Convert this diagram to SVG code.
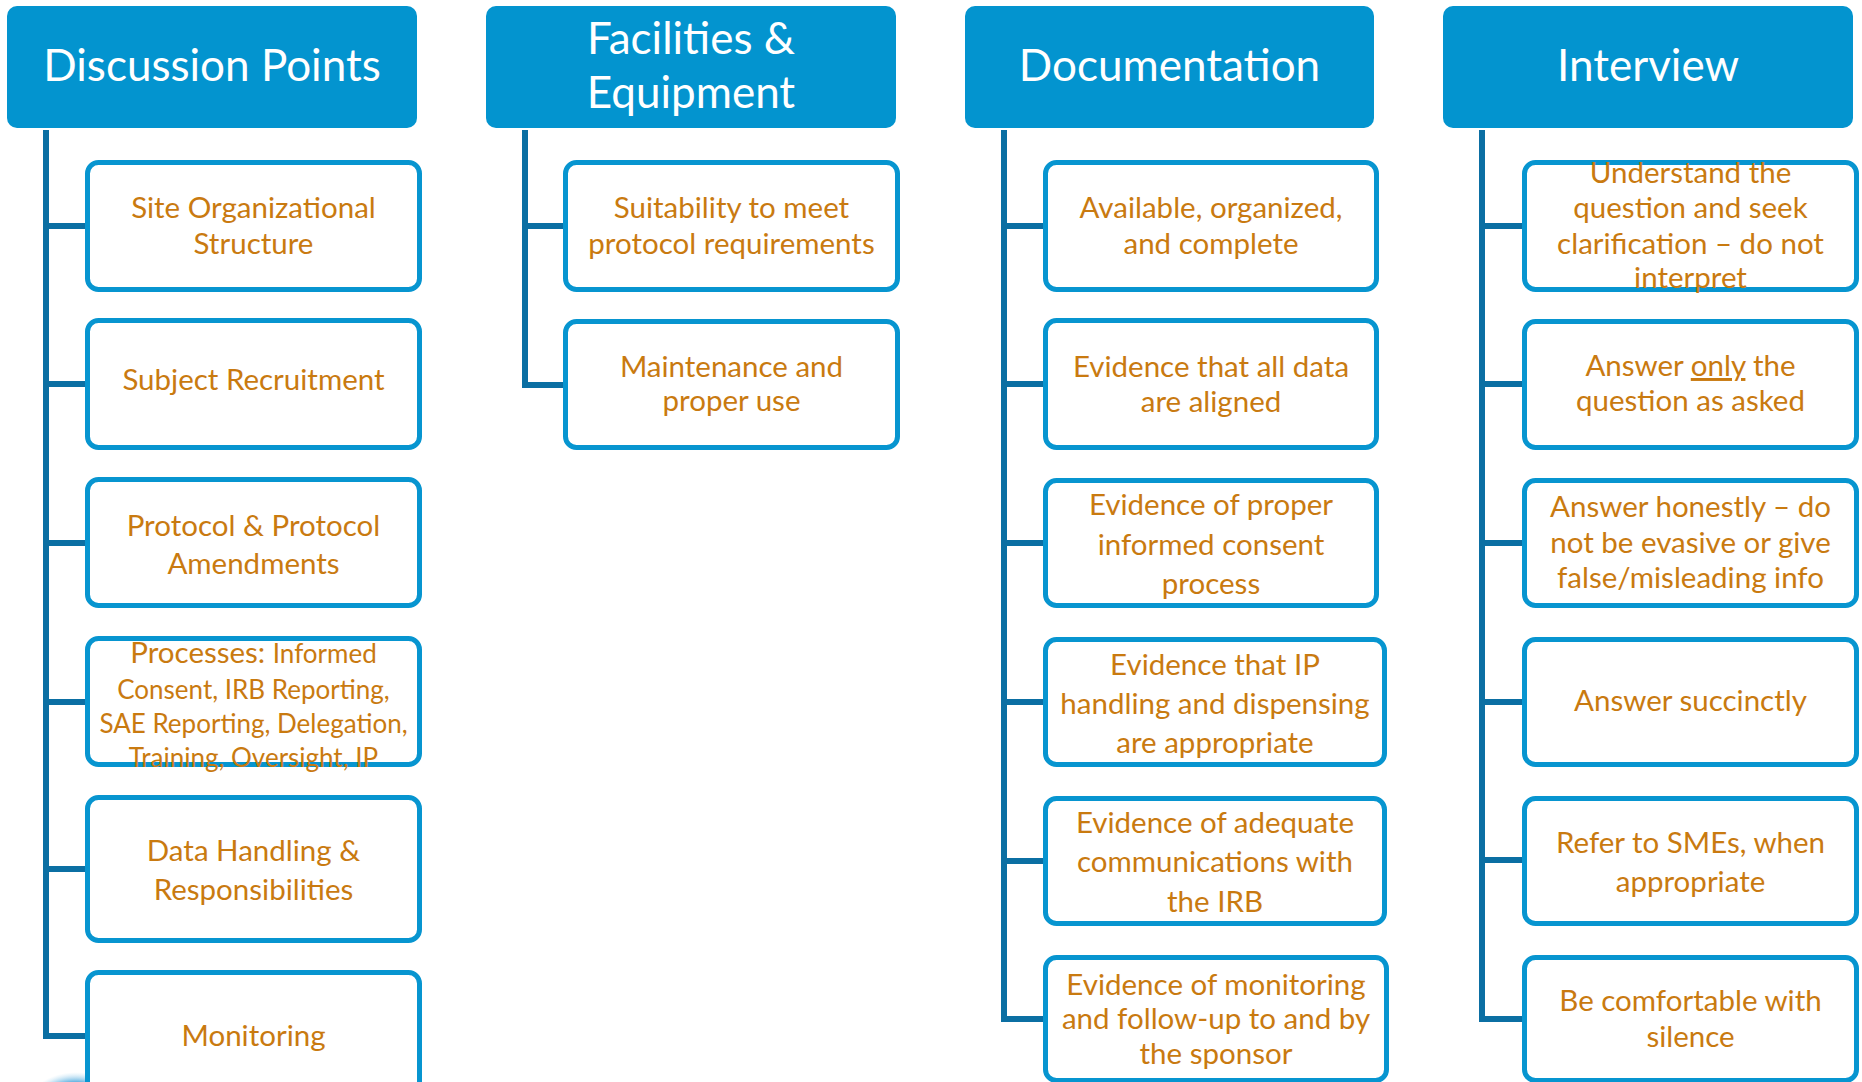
<svg xmlns="http://www.w3.org/2000/svg" width="1862" height="1082" viewBox="0 0 1862 1082">
  <defs>
    <radialGradient id="blobFill" cx="0.5" cy="0.5" r="0.5">
      <stop offset="0" stop-color="#0a7cc4"/>
      <stop offset="0.7" stop-color="#2b97d6"/>
      <stop offset="1" stop-color="#b9def2" stop-opacity="0"/>
    </radialGradient>
  </defs>
  <style>
    .head { fill: #0394cf; }
    .head-t { font-family: Lato, "Open Sans", sans-serif; font-size: 44px; fill: #ffffff; text-anchor: middle; }
    .box { fill: #ffffff; stroke: #0795d0; stroke-width: 5; }
    .t { font-family: Lato, "Open Sans", sans-serif; font-size: 29.5px; fill: #c97a10; text-anchor: middle; }
    .sm { font-size: 26px; }
    .wire { fill: none; stroke: #0b6fa3; stroke-width: 6; stroke-linejoin: miter; }
  </style>
  <rect width="1862" height="1082" fill="#ffffff"/>

  <!-- partially visible badge at the bottom left -->
  <ellipse cx="76" cy="1112" rx="52" ry="40" fill="url(#blobFill)"/>

  <!-- connectors: a trunk under each header with a branch to every item -->
  <g id="connectors" class="wire">
    <path d="M46 130 V1036 H87 M46 226 H87 M46 384 H87 M46 543 H87 M46 702 H87 M46 869 H87"/>
    <path d="M525 130 V385 H565 M525 226 H565"/>
    <path d="M1004 130 V1019 H1045 M1004 226 H1045 M1004 384 H1045 M1004 543 H1045 M1004 702 H1045 M1004 861 H1045"/>
    <path d="M1482 130 V1019 H1524 M1482 226 H1524 M1482 384 H1524 M1482 543 H1524 M1482 702 H1524 M1482 860 H1524"/>
  </g>

  <!-- Discussion Points -->
  <g id="discussion-points">
    <rect class="head" x="7" y="6" width="410" height="122" rx="10"/>
    <text class="head-t" x="212" y="81">Discussion Points</text>
  </g>
  <g id="site-organizational-structure">
    <rect class="box" x="87.5" y="162.5" width="332" height="127" rx="11"/>
    <text class="t" x="253.5" y="218">Site Organizational</text>
    <text class="t" x="253.5" y="254">Structure</text>
  </g>
  <g id="subject-recruitment">
    <rect class="box" x="87.5" y="320.5" width="332" height="127" rx="11"/>
    <text class="t" x="253.5" y="390">Subject Recruitment</text>
  </g>
  <g id="protocol-amendments">
    <rect class="box" x="87.5" y="479.5" width="332" height="126" rx="11"/>
    <text class="t" x="253.5" y="536">Protocol &amp; Protocol</text>
    <text class="t" x="253.5" y="574">Amendments</text>
  </g>
  <g id="processes">
    <rect class="box" x="87.5" y="638.5" width="332" height="126" rx="11"/>
    <text class="t" x="253.5" y="663">Processes: <tspan class="sm">Informed</tspan></text>
    <text class="t sm" x="253.5" y="699">Consent, IRB Reporting,</text>
    <text class="t sm" x="253.5" y="733">SAE Reporting, Delegation,</text>
    <text class="t sm" x="253.5" y="767">Training, Oversight, IP</text>
  </g>
  <g id="data-handling">
    <rect class="box" x="87.5" y="797.5" width="332" height="143" rx="11"/>
    <text class="t" x="253.5" y="861">Data Handling &amp;</text>
    <text class="t" x="253.5" y="900">Responsibilities</text>
  </g>
  <g id="monitoring">
    <rect class="box" x="87.5" y="972.5" width="332" height="127" rx="11"/>
    <text class="t" x="253.5" y="1046">Monitoring</text>
  </g>

  <!-- Facilities & Equipment -->
  <g id="facilities-equipment">
    <rect class="head" x="486" y="6" width="410" height="122" rx="10"/>
    <text class="head-t" x="691" y="54">Facilities &amp;</text>
    <text class="head-t" x="691" y="108">Equipment</text>
  </g>
  <g id="suitability">
    <rect class="box" x="565.5" y="162.5" width="332" height="127" rx="11"/>
    <text class="t" x="731.5" y="218">Suitability to meet</text>
    <text class="t" x="731.5" y="254">protocol requirements</text>
  </g>
  <g id="maintenance">
    <rect class="box" x="565.5" y="321.5" width="332" height="126" rx="11"/>
    <text class="t" x="731.5" y="377">Maintenance and</text>
    <text class="t" x="731.5" y="411">proper use</text>
  </g>

  <!-- Documentation -->
  <g id="documentation">
    <rect class="head" x="965" y="6" width="409" height="122" rx="10"/>
    <text class="head-t" x="1169.5" y="81">Documentation</text>
  </g>
  <g id="available-organized">
    <rect class="box" x="1045.5" y="162.5" width="331" height="127" rx="11"/>
    <text class="t" x="1211" y="218">Available, organized,</text>
    <text class="t" x="1211" y="254">and complete</text>
  </g>
  <g id="data-aligned">
    <rect class="box" x="1045.5" y="320.5" width="331" height="127" rx="11"/>
    <text class="t" x="1211" y="377">Evidence that all data</text>
    <text class="t" x="1211" y="412">are aligned</text>
  </g>
  <g id="informed-consent">
    <rect class="box" x="1045.5" y="480.5" width="331" height="125" rx="11"/>
    <text class="t" x="1211" y="515">Evidence of proper</text>
    <text class="t" x="1211" y="555">informed consent</text>
    <text class="t" x="1211" y="594">process</text>
  </g>
  <g id="ip-handling">
    <rect class="box" x="1045.5" y="639.5" width="339" height="125" rx="11"/>
    <text class="t" x="1215" y="675">Evidence that IP</text>
    <text class="t" x="1215" y="714">handling and dispensing</text>
    <text class="t" x="1215" y="753">are appropriate</text>
  </g>
  <g id="irb-communications">
    <rect class="box" x="1045.5" y="798.5" width="339" height="125" rx="11"/>
    <text class="t" x="1215" y="833">Evidence of adequate</text>
    <text class="t" x="1215" y="872">communications with</text>
    <text class="t" x="1215" y="912">the IRB</text>
  </g>
  <g id="sponsor-monitoring">
    <rect class="box" x="1045.5" y="957.5" width="341" height="123" rx="11"/>
    <text class="t" x="1216" y="995">Evidence of monitoring</text>
    <text class="t" x="1216" y="1029">and follow-up to and by</text>
    <text class="t" x="1216" y="1064">the sponsor</text>
  </g>

  <!-- Interview -->
  <g id="interview">
    <rect class="head" x="1443" y="6" width="410" height="122" rx="10"/>
    <text class="head-t" x="1648" y="81">Interview</text>
  </g>
  <g id="understand-question">
    <rect class="box" x="1524.5" y="162.5" width="332" height="127" rx="11"/>
    <text class="t" x="1690.5" y="183">Understand the</text>
    <text class="t" x="1690.5" y="218">question and seek</text>
    <text class="t" x="1690.5" y="254">clarification – do not</text>
    <text class="t" x="1690.5" y="288">interpret</text>
  </g>
  <g id="answer-only">
    <rect class="box" x="1524.5" y="321.5" width="332" height="126" rx="11"/>
    <text class="t" x="1690.5" y="376">Answer <tspan text-decoration="underline">only</tspan> the</text>
    <text class="t" x="1690.5" y="411">question as asked</text>
  </g>
  <g id="answer-honestly">
    <rect class="box" x="1524.5" y="480.5" width="332" height="125" rx="11"/>
    <text class="t" x="1690.5" y="517">Answer honestly – do</text>
    <text class="t" x="1690.5" y="553">not be evasive or give</text>
    <text class="t" x="1690.5" y="588">false/misleading info</text>
  </g>
  <g id="answer-succinctly">
    <rect class="box" x="1524.5" y="639.5" width="332" height="125" rx="11"/>
    <text class="t" x="1690.5" y="711">Answer succinctly</text>
  </g>
  <g id="refer-to-smes">
    <rect class="box" x="1524.5" y="798.5" width="332" height="125" rx="11"/>
    <text class="t" x="1690.5" y="853">Refer to SMEs, when</text>
    <text class="t" x="1690.5" y="892">appropriate</text>
  </g>
  <g id="comfortable-with-silence">
    <rect class="box" x="1524.5" y="957.5" width="332" height="123" rx="11"/>
    <text class="t" x="1690.5" y="1011">Be comfortable with</text>
    <text class="t" x="1690.5" y="1047">silence</text>
  </g>
</svg>
